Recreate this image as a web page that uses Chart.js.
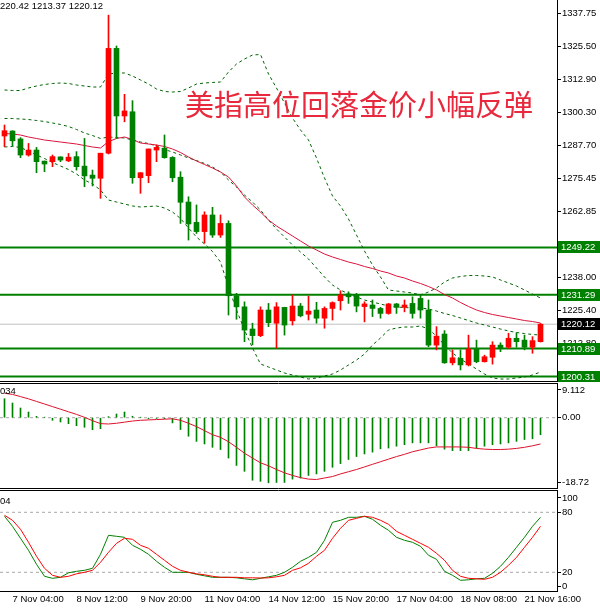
<!DOCTYPE html>
<html>
<head>
<meta charset="utf-8">
<script src="https://cdn.jsdelivr.net/npm/chart.js@4.4.1/dist/chart.umd.min.js"></script>
<style>
  html, body { margin: 0; padding: 0; background: #fff; }
  #wrap { position: relative; width: 600px; height: 612px; overflow: hidden; background: #fff; }
  canvas { position: absolute; left: 0; }
  #main { top: 0; }
  #macd { top: 383px; }
  #stoch { top: 490px; }
</style>
</head>
<body>
<div id="wrap">
  <canvas id="main" width="600" height="382"></canvas>
  <canvas id="macd" width="600" height="106"></canvas>
  <canvas id="stoch" width="600" height="122"></canvas>
</div>
<script>
/* XAUUSD H4 - candles, bollinger, MA, MACD, stochastic */
const open = [1291.41, 1293.30, 1290.30, 1284.20, 1286.10, 1281.90, 1281.70, 1283.50, 1282.00, 1283.60,
  1280.00, 1276.60, 1275.40, 1284.90, 1324.60, 1299.00, 1300.60, 1275.60, 1276.40, 1286.10,
  1286.80, 1283.30, 1275.80, 1266.40, 1258.70, 1255.20, 1261.50, 1253.90, 1258.30, 1230.90,
  1226.70, 1218.30, 1215.80, 1225.50, 1220.50, 1226.50, 1221.40, 1227.00, 1223.90, 1225.50,
  1222.40, 1226.10, 1229.00, 1231.60, 1231.20, 1226.80, 1227.40, 1226.10, 1224.20, 1227.80,
  1226.50, 1228.00, 1229.90, 1225.50, 1212.20, 1216.40, 1205.50, 1207.20, 1204.70, 1210.70,
  1205.90, 1207.60, 1212.20, 1211.40, 1214.80, 1214.10, 1211.40, 1213.50];
const high = [1295.58, 1293.42, 1290.80, 1288.60, 1287.10, 1281.95, 1284.20, 1283.55, 1284.80, 1285.50,
  1290.50, 1278.50, 1284.90, 1337.20, 1325.50, 1307.20, 1304.80, 1277.60, 1286.50, 1288.00,
  1291.80, 1283.60, 1277.90, 1268.40, 1265.30, 1262.70, 1264.40, 1261.50, 1259.30, 1231.80,
  1228.60, 1220.50, 1226.70, 1228.00, 1228.30, 1226.55, 1231.20, 1228.00, 1230.80, 1228.40,
  1226.70, 1228.60, 1232.80, 1232.40, 1231.80, 1228.60, 1229.30, 1226.50, 1228.00, 1228.00,
  1229.30, 1230.50, 1231.20, 1229.30, 1219.20, 1217.70, 1210.40, 1210.40, 1216.00, 1214.10,
  1208.40, 1213.50, 1213.10, 1216.70, 1216.90, 1216.00, 1215.40, 1220.42];
const low = [1287.36, 1287.60, 1283.20, 1283.80, 1277.50, 1277.90, 1279.80, 1281.70, 1281.70, 1278.50,
  1272.20, 1272.50, 1267.80, 1284.60, 1290.50, 1296.80, 1273.50, 1269.70, 1273.70, 1281.70,
  1283.00, 1274.10, 1258.30, 1252.00, 1254.50, 1250.80, 1253.00, 1253.00, 1223.60, 1222.00,
  1213.50, 1212.30, 1215.40, 1219.20, 1211.00, 1216.00, 1219.80, 1222.90, 1221.70, 1220.50,
  1218.60, 1221.70, 1225.50, 1228.00, 1224.80, 1221.00, 1223.00, 1222.40, 1223.90, 1224.20,
  1224.80, 1222.40, 1222.40, 1211.60, 1210.40, 1205.30, 1204.70, 1202.80, 1204.30, 1205.50,
  1205.80, 1205.00, 1209.70, 1211.00, 1211.40, 1210.40, 1209.10, 1213.37];
const close = [1293.42, 1289.60, 1284.20, 1286.10, 1281.70, 1280.80, 1283.60, 1282.30, 1283.40, 1279.80,
  1276.30, 1275.40, 1284.90, 1324.60, 1299.00, 1300.90, 1275.60, 1277.50, 1286.50, 1287.10,
  1283.20, 1275.60, 1266.30, 1258.10, 1255.20, 1261.50, 1253.90, 1258.30, 1230.90, 1226.70,
  1217.90, 1215.80, 1225.50, 1220.70, 1226.70, 1219.80, 1227.00, 1223.30, 1225.10, 1222.40,
  1226.10, 1228.30, 1231.20, 1230.50, 1227.00, 1227.80, 1226.10, 1224.20, 1227.80, 1226.50,
  1227.40, 1224.20, 1225.50, 1212.20, 1215.60, 1205.50, 1207.40, 1204.70, 1210.70, 1205.90,
  1207.80, 1212.20, 1211.00, 1214.80, 1213.50, 1211.40, 1213.90, 1220.12];

const ma = [1292.36, 1292.17, 1291.79, 1291.03, 1290.47, 1289.90, 1289.52, 1289.14, 1288.76, 1288.38,
  1287.81, 1287.25, 1286.87, 1289.30, 1290.47, 1291.03, 1290.09, 1288.76, 1288.38, 1288.00,
  1287.44, 1286.49, 1285.16, 1283.46, 1281.94, 1280.62, 1279.29, 1277.78, 1275.88, 1272.47,
  1268.31, 1265.28, 1262.62, 1259.59, 1257.32, 1255.43, 1253.53, 1251.64, 1249.75, 1248.23,
  1246.71, 1245.58, 1244.63, 1243.68, 1242.93, 1241.98, 1241.22, 1240.28, 1239.52, 1238.38,
  1237.62, 1236.49, 1235.54, 1234.40, 1233.08, 1231.37, 1230.05, 1228.34, 1226.83, 1225.50,
  1224.55, 1223.80, 1223.23, 1222.66, 1222.09, 1221.52, 1221.14, 1220.58];
const bbUpper = [1308.84, 1308.65, 1308.65, 1309.60, 1310.35, 1310.92, 1311.30, 1311.49, 1311.30, 1310.73,
  1310.35, 1309.97, 1309.97, 1314.90, 1315.28, 1315.28, 1314.14, 1312.63, 1311.11, 1309.22,
  1308.27, 1308.08, 1308.27, 1309.60, 1311.11, 1311.49, 1311.68, 1311.87, 1315.66, 1318.69,
  1320.58, 1322.10, 1322.29, 1314.90, 1309.60, 1303.91, 1298.23, 1293.69, 1289.90, 1283.08,
  1275.50, 1268.69, 1264.90, 1259.97, 1253.91, 1247.85, 1242.55, 1238.00, 1233.08, 1232.70,
  1232.32, 1231.94, 1231.18, 1232.32, 1233.84, 1236.11, 1237.62, 1238.19, 1238.57, 1238.57,
  1238.38, 1238.00, 1236.87, 1235.73, 1234.59, 1233.08, 1231.56, 1230.05];
const bbMid = [1298.04, 1298.04, 1297.85, 1297.66, 1297.28, 1296.91, 1296.34, 1295.77, 1295.01, 1293.88,
  1292.55, 1291.60, 1290.47, 1291.03, 1290.85, 1290.66, 1289.90, 1289.14, 1288.57, 1287.63,
  1286.30, 1285.35, 1284.22, 1283.08, 1282.13, 1281.00, 1279.67, 1277.78, 1274.75, 1272.09,
  1269.06, 1266.41, 1263.38, 1259.59, 1256.18, 1253.15, 1250.12, 1247.47, 1244.82, 1241.41,
  1238.00, 1234.97, 1233.08, 1231.56, 1230.43, 1229.29, 1228.53, 1227.77, 1227.02, 1226.64,
  1226.45, 1226.26, 1226.26, 1225.88, 1225.12, 1224.18, 1223.42, 1222.47, 1221.52, 1220.58,
  1219.82, 1219.06, 1218.30, 1217.55, 1216.98, 1216.60, 1216.22, 1216.03];
const bbLower = [1287.25, 1287.44, 1287.06, 1285.73, 1284.22, 1282.89, 1281.37, 1280.05, 1278.72, 1277.02,
  1274.75, 1273.23, 1270.96, 1267.17, 1266.41, 1265.65, 1264.90, 1264.52, 1264.71, 1264.90,
  1264.14, 1262.62, 1260.16, 1256.56, 1253.15, 1250.50, 1247.66, 1243.68, 1234.21, 1225.50,
  1217.93, 1211.11, 1205.05, 1203.91, 1202.77, 1201.64, 1200.88, 1200.12, 1199.36, 1199.74,
  1200.50, 1201.26, 1202.77, 1204.67, 1206.56, 1208.83, 1212.24, 1214.90, 1217.93, 1218.68,
  1219.06, 1219.06, 1219.44, 1218.30, 1215.65, 1212.24, 1209.21, 1206.94, 1205.05, 1203.15,
  1201.26, 1199.74, 1199.36, 1199.36, 1199.74, 1200.12, 1200.88, 1202.02];

const macdMain = [5.14, 3.97, 2.62, 1.54, 0.38, 0.10, -0.70, -1.16, -1.62, -2.16,
  -2.59, -3.24, -2.97, 0.30, 1.00, 1.54, 0.40, 0.10, -0.30, -0.20,
  -0.25, -1.40, -3.20, -5.00, -6.40, -7.10, -8.00, -8.60, -10.90, -12.90,
  -14.50, -16.90, -17.20, -17.60, -17.50, -17.50, -16.60, -16.30, -15.60, -15.20,
  -14.50, -13.40, -12.40, -11.30, -10.50, -9.80, -9.30, -8.40, -8.20, -7.70,
  -7.30, -6.80, -6.80, -6.80, -7.60, -8.50, -8.90, -8.90, -8.90, -8.20,
  -7.70, -7.30, -7.10, -6.80, -6.40, -5.90, -5.70, -4.60];
const macdSignal = [6.6, 6.3, 5.7, 5.1, 4.4, 3.7, 3.0, 2.3, 1.6, 0.9,
  0.1, -0.8, -1.6, -1.7, -1.5, -1.2, -0.9, -0.7, -0.6, -0.5,
  -0.4, -0.3, -0.7, -1.5, -2.4, -3.5, -4.6, -5.3, -6.5, -8.0,
  -9.6, -10.9, -12.2, -13.0, -14.0, -14.9, -15.6, -16.2, -16.6, -16.7,
  -16.3, -15.9, -15.2, -14.6, -14.0, -13.3, -12.6, -11.9, -11.2, -10.5,
  -9.9, -9.2, -8.7, -8.2, -7.9, -7.9, -7.9, -7.9, -8.0, -8.3,
  -8.5, -8.6, -8.6, -8.5, -8.3, -8.0, -7.6, -7.1];

const stochK = [76, 66, 54, 42, 28, 16, 14, 15, 19.5, 21,
  22, 24, 38, 57, 56, 55, 47, 43, 38, 31,
  25, 20, 20, 20, 18, 16.5, 15, 15, 15, 14.5,
  13.5, 12.5, 14, 15.5, 17, 20, 25, 31, 35, 40,
  52, 70, 72, 75, 75, 76, 73, 67, 62, 55,
  52, 50, 46, 37, 33, 21, 17, 12, 12.5, 13.5,
  14, 19, 26, 35, 45, 55, 66, 75];
const stochD = [77, 72, 63, 50, 36, 24, 17, 15, 16, 18.5,
  20, 22, 30, 40, 49, 54, 53, 47, 44, 38,
  32, 26, 22, 20, 18.5, 17.5, 16, 15, 15, 15,
  14.5, 14.5, 14.3, 14.5, 15.5, 17, 22, 24.5, 29, 36,
  42, 54, 64, 72, 74, 76, 75, 72, 68, 61,
  57, 53, 49, 45, 39, 32, 22, 16, 14, 13.5,
  13, 15, 20, 27, 35, 45, 55, 66];

const levels = [1249.22, 1231.29, 1210.89, 1200.31];
const priceTicks = [1337.75, 1325.50, 1312.90, 1300.30, 1287.70, 1275.45, 1262.85, 1250.25, 1238.00, 1225.40, 1212.80];
const macdTickText = ['9.112', '0.00', '-18.72'];
const macdTickAt = [7.5, 0, -17.4];
const stochTickText = ['100', '80', '20', '0'];
const stochTickAt = [94.3, 80, 20, 6.3];
const stochLevels = [80, 20];
const tickBars = [1, 9, 17, 25, 33, 41, 49, 57, 65];
const tickLabels = ['7 Nov 04:00', '8 Nov 12:00', '9 Nov 20:00', '11 Nov 04:00', '14 Nov 12:00',
  '15 Nov 20:00', '17 Nov 04:00', '18 Nov 08:00', '21 Nov 16:00'];

const title = '美指高位回落金价小幅反弹';
const headMain = '220.42 1213.37 1220.12';
const headMacd = '034';
const headStoch = '04';

// ---- look ----
const UP = '#ff0000', DOWN = '#008000';
const LEVEL = '#008000', BAND = '#006400', MA_COL = '#dc143c';
const FAM = '"Liberation Sans", Arial, sans-serif';
const font = { family: FAM, size: 9.5 };
const X_MIN = -0.5625, X_MAX = 69.0625;

Chart.defaults.animation = false;
Chart.defaults.color = '#000';
Chart.defaults.font.family = FAM;
Chart.defaults.plugins.legend.display = false;
Chart.defaults.plugins.tooltip.enabled = false;

const pts = arr => arr.map((v, i) => ({ x: i, y: v }));
const flat = v => [{ x: X_MIN, y: v }, { x: X_MAX, y: v }];
const candleCol = close.map((c, i) => (c >= open[i] ? UP : DOWN));

function xAxis(show) {
  const ax = {
    type: 'linear', min: X_MIN, max: X_MAX, offset: false, display: show,
    grid: { display: false, offset: false },
  };
  if (show) {
    ax.grid = { drawOnChartArea: false, drawTicks: false, offset: false };
    ax.border = { display: true, color: '#000' };
    ax.afterBuildTicks = s => { s.ticks = tickBars.map(v => ({ value: v })); };
    ax.afterFit = s => { s.height = 21; s.paddingLeft = 0; s.paddingRight = 0; };
    ax.ticks = { callback: (v, i) => tickLabels[i], align: 'start', autoSkip: false,
      maxRotation: 0, minRotation: 0, padding: 3, font, color: '#000' };
  }
  return ax;
}

function yAxis(min, max, at, text) {
  return {
    position: 'right', min, max,
    afterBuildTicks: s => { s.ticks = at.map(v => ({ value: v })); },
    afterFit: s => { s.width = 43; s.paddingTop = 0; s.paddingBottom = 0; },
    ticks: { callback: (v, i) => text(i), autoSkip: false, padding: 1, font, color: '#000' },
    grid: { drawOnChartArea: false, drawTicks: true, tickLength: 4, color: '#000' },
    border: { display: true, color: '#000' },
  };
}

function hline(ctx, x0, x1, y) {
  ctx.beginPath(); ctx.moveTo(x0, y); ctx.lineTo(x1, y); ctx.stroke();
}

const mainOverlay = {
  id: 'mainOverlay',
  afterDraw(chart) {
    const { ctx, chartArea: a } = chart;
    const y = chart.scales.y;
    ctx.save();
    ctx.strokeStyle = '#000'; ctx.lineWidth = 1;
    hline(ctx, 0, a.right, a.bottom - 0.5);
    ctx.font = '9.5px ' + FAM;
    ctx.textBaseline = 'middle'; ctx.textAlign = 'left';
    const boxes = levels.map(v => [v, LEVEL]).concat([[close[close.length - 1], '#000']]);
    boxes.forEach(([v, bg]) => {
      const py = Math.round(y.getPixelForValue(v));
      ctx.fillStyle = bg;
      ctx.fillRect(a.right + 1, py - 6, 600 - a.right - 1, 12);
      ctx.fillStyle = '#fff';
      ctx.fillText(v.toFixed(2), a.right + 4, py + 0.5);
    });
    ctx.fillStyle = '#000';
    ctx.fillText(headMain, 0, 6);
    ctx.font = '29px "Noto Sans CJK SC"';
    ctx.fillStyle = '#e8283c';
    ctx.fillText(title, 185, 105);
    ctx.restore();
  }
};

function panelOverlay(head, headY, drawBottom) {
  return {
    id: 'panelOverlay',
    afterDraw(chart) {
      const { ctx, chartArea: a } = chart;
      ctx.save();
      ctx.strokeStyle = '#000'; ctx.lineWidth = 1;
      hline(ctx, 0, a.right, a.top + 0.5);
      if (drawBottom) hline(ctx, 0, a.right, a.bottom - 0.5);
      ctx.font = '9.5px ' + FAM;
      ctx.fillStyle = '#000'; ctx.textBaseline = 'middle'; ctx.textAlign = 'left';
      ctx.fillText(head, 0, headY);
      ctx.restore();
    }
  };
}

const lineBase = { type: 'line', pointRadius: 0, borderWidth: 1, tension: 0, fill: false };

// ---- main price panel ----
new Chart(document.getElementById('main'), {
  type: 'bar',
  data: {
    datasets: [
      { type: 'bar', order: 0, grouped: false, data: close.map((c, i) => ({ x: i, y: [open[i], c] })),
        backgroundColor: candleCol, barThickness: 5, minBarLength: 1, borderWidth: 0 },
      { type: 'bar', order: 1, grouped: false, data: close.map((c, i) => ({ x: i, y: [low[i], high[i]] })),
        backgroundColor: candleCol, barThickness: 1, borderWidth: 0 },
      { ...lineBase, order: 2, data: pts(ma), borderColor: MA_COL },
      { ...lineBase, order: 3, data: pts(bbUpper), borderColor: BAND, borderDash: [3, 3] },
      { ...lineBase, order: 3, data: pts(bbMid), borderColor: BAND, borderDash: [3, 3] },
      { ...lineBase, order: 3, data: pts(bbLower), borderColor: BAND, borderDash: [3, 3] },
      ...levels.map(v => ({ ...lineBase, order: 4, data: flat(v), borderColor: LEVEL, borderWidth: 2 })),
      { ...lineBase, order: 5, data: flat(close[close.length - 1]), borderColor: '#c0c0c0' },
    ],
  },
  options: {
    responsive: false,
    events: [],
    layout: { padding: 0 },
    scales: {
      x: xAxis(false),
      y: yAxis(1198.23, 1342.93, priceTicks, i => priceTicks[i].toFixed(2)),
    },
  },
  plugins: [mainOverlay],
});

// ---- MACD panel ----
new Chart(document.getElementById('macd'), {
  type: 'bar',
  data: {
    datasets: [
      { ...lineBase, order: 0, data: pts(macdSignal), borderColor: '#e0102a' },
      { type: 'bar', order: 1, grouped: false, data: pts(macdMain),
        backgroundColor: '#008000', barThickness: 1, borderWidth: 0 },
      { ...lineBase, order: 2, data: flat(0), borderColor: '#a8a8a8', borderDash: [3, 3] },
    ],
  },
  options: {
    responsive: false,
    events: [],
    layout: { padding: 0 },
    scales: {
      x: xAxis(false),
      y: yAxis(-19.27, 9.38, macdTickAt, i => macdTickText[i]),
    },
  },
  plugins: [panelOverlay(headMacd, 8, true)],
});

// ---- Stochastic panel ----
new Chart(document.getElementById('stoch'), {
  type: 'line',
  data: {
    datasets: [
      { ...lineBase, order: 0, data: pts(stochD), borderColor: '#ff0000' },
      { ...lineBase, order: 1, data: pts(stochK), borderColor: '#008000' },
      ...stochLevels.map(v => ({ ...lineBase, order: 2, data: flat(v), borderColor: '#a8a8a8', borderDash: [3, 3] })),
    ],
  },
  options: {
    responsive: false,
    events: [],
    layout: { padding: 0 },
    scales: {
      x: xAxis(true),
      y: yAxis(1.3, 102.3, stochTickAt, i => stochTickText[i]),
    },
  },
  plugins: [panelOverlay(headStoch, 11, false)],
});
</script>
</body>
</html>
